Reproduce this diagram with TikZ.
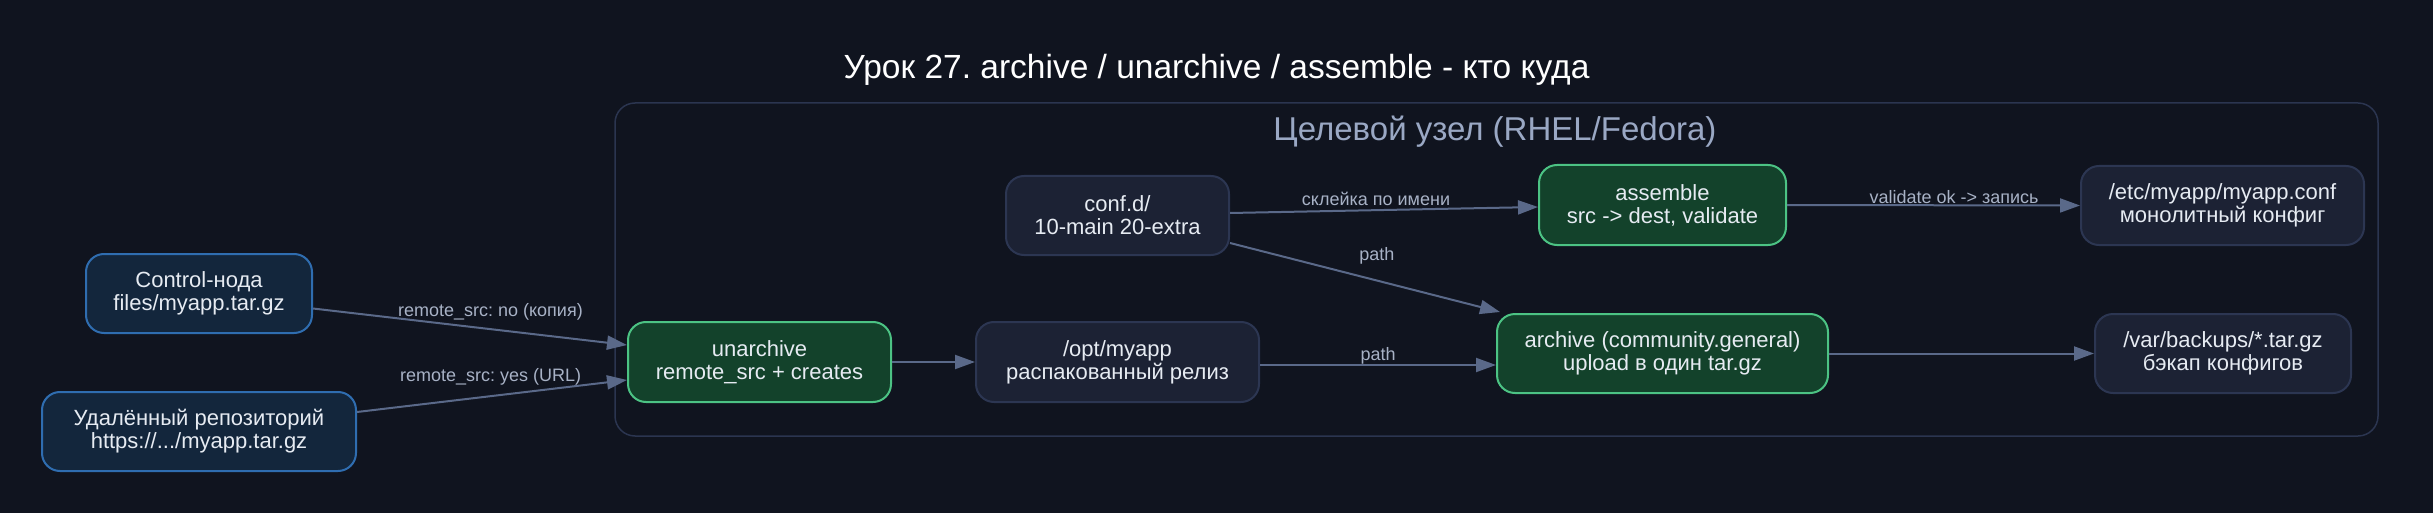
\documentclass[tikz,border=0pt]{standalone}
\usepackage{fontspec}
\setmainfont{Liberation Sans}
\frenchspacing
\usetikzlibrary{arrows.meta}
\definecolor{bgcol}{HTML}{10141F}
\definecolor{bluefill}{HTML}{13263C}
\definecolor{blueline}{HTML}{2F6DB0}
\definecolor{greenfill}{HTML}{13422B}
\definecolor{greenline}{HTML}{4CC384}
\definecolor{grayfill}{HTML}{1C2234}
\definecolor{grayline}{HTML}{2C3652}
\definecolor{edgecol}{HTML}{5A6989}
\definecolor{lblcol}{HTML}{A8B2C6}
\definecolor{clusterline}{HTML}{2B3550}
\definecolor{clustertitle}{HTML}{9AA8C4}
\definecolor{txtcol}{HTML}{E6EBF2}
\newcommand\myNodeFont{\fontsize{22}{23}\selectfont}
\newcommand\myLabelFont{\fontsize{18}{20}\selectfont}
\begin{document}
\begin{tikzpicture}[x=1pt,y=-1pt,
  basebox/.style={draw, rounded corners=18pt, line width=2pt, align=center, inner sep=0pt, text=txtcol, font=\myNodeFont},
  bluebox/.style={basebox, fill=bluefill, draw=blueline},
  greenbox/.style={basebox, fill=greenfill, draw=greenline},
  graybox/.style={basebox, fill=grayfill, draw=grayline},
  conn/.style={-{Triangle[length=20pt,width=14pt]}, line width=2pt, draw=edgecol},
  lbl/.style={font=\myLabelFont, text=lblcol, inner sep=0pt}
]
\fill[bgcol] (0,0) rectangle (2433,513);
\useasboundingbox (0,0) rectangle (2433,513);

\node[font=\fontsize{33.5}{36}\selectfont, text=white, inner sep=0pt] (title) at (1216.5,70) {Урок 27. archive / unarchive / assemble - кто куда};

\node[draw=clusterline, line width=1.5pt, rounded corners=20pt, minimum width=1763pt, minimum height=333pt, inner sep=0pt] (cluster) at (1496.5,269.5) {};
\node[font=\fontsize{33}{36}\selectfont, text=clustertitle, inner sep=0pt] (ctitle) at (1495,132) {Целевой узел (RHEL/Fedora)};

\node[bluebox, minimum width=226pt, minimum height=79pt] (ctrl) at (199,293.5) {Control-нода\\files/myapp.tar.gz};
\node[bluebox, minimum width=314pt, minimum height=79pt] (remote) at (199,431.5) {Удалённый репозиторий\\https://.../myapp.tar.gz};
\node[greenbox, minimum width=263pt, minimum height=80pt] (unarch) at (759.5,362) {unarchive\\remote\_src + creates};
\node[graybox, minimum width=223pt, minimum height=79pt] (conf) at (1117.5,215.5) {conf.d/\\10-main 20-extra};
\node[graybox, minimum width=283pt, minimum height=80pt] (opt) at (1117.5,362) {/opt/myapp\\распакованный релиз};
\node[greenbox, minimum width=247pt, minimum height=80pt] (assemble) at (1662.5,205) {assemble\\src -> dest, validate};
\node[greenbox, minimum width=331pt, minimum height=79pt] (archive) at (1662.5,353.5) {archive (community.general)\\upload в один tar.gz};
\node[graybox, minimum width=283pt, minimum height=79pt] (etc) at (2222.5,205.5) {/etc/myapp/myapp.conf\\монолитный конфиг};
\node[graybox, minimum width=256pt, minimum height=79pt] (var) at (2223,353.5) {/var/backups/*.tar.gz\\бэкап конфигов};

\draw[conn] ([yshift=-15pt]ctrl.east) -- ([yshift=17pt]unarch.west)
  node[lbl, pos=0.565, yshift=17pt] {remote\_src: no (копия)};
\draw[conn] ([yshift=19.5pt]remote.east) -- ([yshift=-18pt]unarch.west)
  node[lbl, pos=0.495, yshift=19pt] {remote\_src: yes (URL)};
\draw[conn] (unarch.east) -- (opt.west);
\draw[conn] ([yshift=2.5pt]conf.east) -- ([yshift=-2pt]assemble.west)
  node[lbl, pos=0.474, yshift=11pt] {склейка по имени};
\draw[conn] ([yshift=-27.5pt]conf.east) -- ([xshift=4pt,yshift=1pt]archive.north west)
  node[lbl, pos=0.544, yshift=25pt] {path};
\draw[conn] ([yshift=-3pt]opt.east) -- ([yshift=-11.5pt]archive.west)
  node[lbl, pos=0.5, yshift=9pt] {path};
\draw[conn] (assemble.east) -- (etc.west)
  node[lbl, pos=0.57, yshift=8pt] {validate ok -> запись};
\draw[conn] (archive.east) -- (var.west);
\end{tikzpicture}
\end{document}
